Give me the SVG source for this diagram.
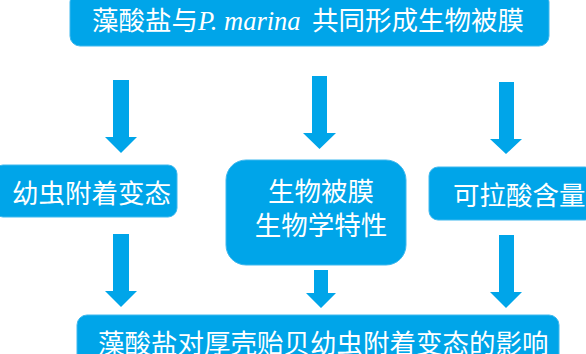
<svg xmlns="http://www.w3.org/2000/svg" width="586" height="354" viewBox="0 0 586 354">
<style>
.box{fill:#00A5E9;stroke:#3fb8ee;stroke-width:1}
.t{font-family:"Noto Sans CJK SC","Noto Sans",sans-serif;font-size:26.5px;fill:#ffffff}
.it{font-family:"Liberation Serif",serif;font-style:italic}
.arr{fill:#00A5E9}
</style>
<rect width="586" height="354" fill="#ffffff"/>
<g id="top">
<rect class="box" x="70" y="-8" width="479" height="54" rx="10"/>
<text class="t" x="92" y="30">藻酸盐与<tspan class="it">P. marina </tspan><tspan x="312">共同形成生物被膜</tspan></text>
</g>
<g id="left">
<rect class="box" x="-6" y="165" width="183" height="52" rx="9"/>
<text class="t" x="12" y="203">幼虫附着变态</text>
</g>
<g id="middle">
<rect class="box" x="226" y="160" width="180" height="105" rx="20"/>
<text class="t" x="321" y="201" text-anchor="middle">生物被膜</text>
<text class="t" x="321" y="235" text-anchor="middle">生物学特性</text>
</g>
<g id="right">
<rect class="box" x="429" y="167" width="165" height="53" rx="9"/>
<text class="t" x="453" y="205">可拉酸含量</text>
</g>
<g id="bottom">
<rect class="box" x="77" y="315" width="482" height="50" rx="10"/>
<text class="t" x="98" y="353">藻酸盐对厚壳贻贝幼虫附着变态的影响</text>
</g>
<g id="connectors">
<polygon class="arr" points="113,80 129,80 129,137 137,137 121,153 105,137 113,137"/>
<polygon class="arr" points="312,76 327,76 327,133 336,133 319.5,149 303,133 312,133"/>
<polygon class="arr" points="499,82 514,82 514,139 522,139 506,154 490,139 499,139"/>
<polygon class="arr" points="113,234 129,234 129,291 137,291 121,307 105,291 113,291"/>
<polygon class="arr" points="314,270 328,270 328,293 336,293 321,308 306,293 314,293"/>
<polygon class="arr" points="499,235 514,235 514,292 522,292 506,308 490,292 499,292"/>
</g>
</svg>
